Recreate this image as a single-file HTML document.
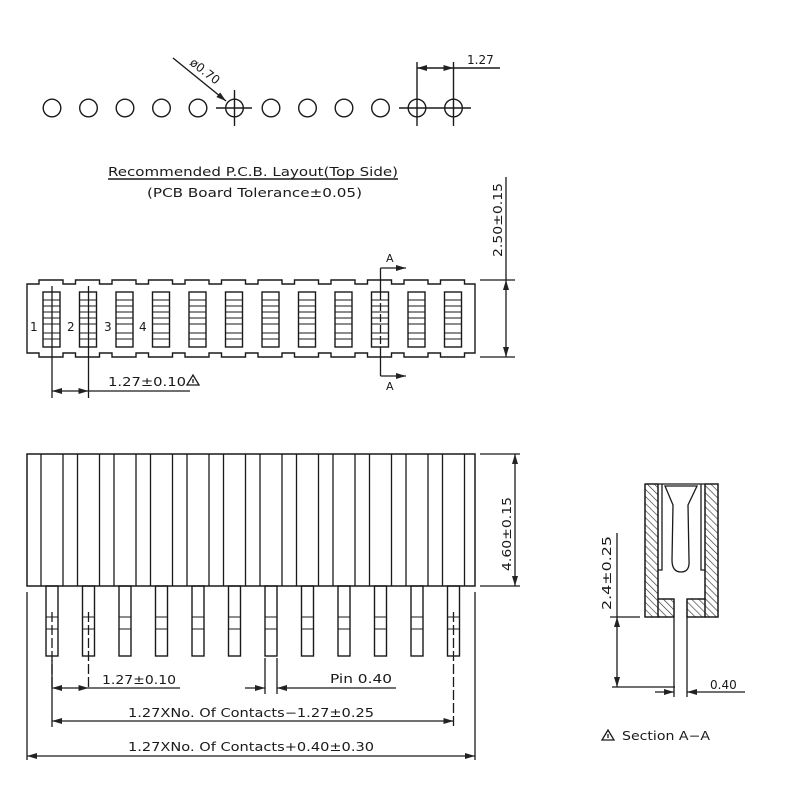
<!DOCTYPE html>
<html><head><meta charset="utf-8"><style>
html,body{margin:0;padding:0;background:#fff;}
svg{display:block;}
text{font-family:"DejaVu Sans","Liberation Sans",sans-serif;fill:#1a1a1a;}
</style></head><body>
<svg width="800" height="800" viewBox="0 0 800 800" xmlns="http://www.w3.org/2000/svg">
<defs>
<marker id="ar" viewBox="0 0 10 6" refX="10" refY="3" markerWidth="10" markerHeight="6" orient="auto-start-reverse" markerUnits="userSpaceOnUse"><path d="M0,0 L10,3 L0,6 z" fill="#222"/></marker>
<pattern id="hatch" width="5" height="5" patternUnits="userSpaceOnUse" patternTransform="rotate(-45)"><line x1="0" y1="0" x2="0" y2="5" stroke="#333" stroke-width="1.3"/></pattern>
<g id="slot"><rect x="-9" y="292" width="17" height="55" fill="none" stroke="#1a1a1a" stroke-width="1.4"/>
<path d="M-9,300H8M-9,306H8M-9,312H8M-9,318H8M-9,324H8M-9,333H8M-9,339H8" stroke="#1a1a1a" stroke-width="1.1"/></g>
<g id="pin"><rect x="-6" y="586" width="12" height="70" fill="none" stroke="#1a1a1a" stroke-width="1.4"/>
<path d="M-6,617H6M-6,629H6" stroke="#1a1a1a" stroke-width="1.1"/></g>
<g id="hole"><circle cx="0" cy="108" r="8.8" fill="none" stroke="#1a1a1a" stroke-width="1.4"/></g>
</defs>
<g stroke="#1a1a1a" fill="none" stroke-width="1.4">
<use href="#hole" x="52"/><use href="#hole" x="88.5"/><use href="#hole" x="125"/><use href="#hole" x="161.5"/><use href="#hole" x="198"/><use href="#hole" x="234.5"/><use href="#hole" x="271"/><use href="#hole" x="307.5"/><use href="#hole" x="344"/><use href="#hole" x="380.5"/><use href="#hole" x="417"/><use href="#hole" x="453.5"/>
<path d="M216,108H252M234.5,90V126M399,108H471M417,90V126M453.5,90V126"/>
<path d="M417,62V90M453.5,62V90"/>
<line x1="417" y1="68" x2="453.5" y2="68" marker-start="url(#ar)" marker-end="url(#ar)"/>
<path d="M453.5,68H500"/>
<line x1="173" y1="58" x2="226" y2="101" marker-end="url(#ar)"/>
<path d="M108,179H398"/>
<path d="M27,284 L39,284 L39,280 L63,280 L63,284 L75.5,284 L75.5,280 L99.5,280 L99.5,284 L112,284 L112,280 L136,280 L136,284 L148.5,284 L148.5,280 L172.5,280 L172.5,284 L185,284 L185,280 L209,280 L209,284 L221.5,284 L221.5,280 L245.5,280 L245.5,284 L258,284 L258,280 L282,280 L282,284 L294.5,284 L294.5,280 L318.5,280 L318.5,284 L331,284 L331,280 L355,280 L355,284 L367.5,284 L367.5,280 L391.5,280 L391.5,284 L404,284 L404,280 L428,280 L428,284 L440.5,284 L440.5,280 L464.5,280 L464.5,284 L475,284 L475,353 L464.5,353 L464.5,357 L440.5,357 L440.5,353 L428,353 L428,357 L404,357 L404,353 L391.5,353 L391.5,357 L367.5,357 L367.5,353 L355,353 L355,357 L331,357 L331,353 L318.5,353 L318.5,357 L294.5,357 L294.5,353 L282,353 L282,357 L258,357 L258,353 L245.5,353 L245.5,357 L221.5,357 L221.5,353 L209,353 L209,357 L185,357 L185,353 L172.5,353 L172.5,357 L148.5,357 L148.5,353 L136,353 L136,357 L112,357 L112,353 L99.5,353 L99.5,357 L75.5,357 L75.5,353 L63,353 L63,357 L39,357 L39,353 L27,353 Z"/>
</g>
<use href="#slot" x="52"/><use href="#slot" x="88.5"/><use href="#slot" x="125"/><use href="#slot" x="161.5"/><use href="#slot" x="198"/><use href="#slot" x="234.5"/><use href="#slot" x="271"/><use href="#slot" x="307.5"/><use href="#slot" x="344"/><use href="#slot" x="380.5"/><use href="#slot" x="417"/><use href="#slot" x="453.5"/>
<g stroke="#1a1a1a" fill="none" stroke-width="1.3">
<path d="M52,286V398M88.5,286V398"/>
<line x1="52" y1="391" x2="88.5" y2="391" marker-start="url(#ar)" marker-end="url(#ar)"/>
<path d="M88.5,391H190"/>
<path d="M380.5,292V347" stroke-dasharray="8,3"/>
<path d="M380.5,292V268"/><line x1="380.5" y1="268" x2="406" y2="268" marker-end="url(#ar)"/>
<path d="M380.5,347V376"/><line x1="380.5" y1="376" x2="406" y2="376" marker-end="url(#ar)"/>
<path d="M480,280H515M480,357H515M506,177V280"/>
<line x1="506" y1="280" x2="506" y2="357" marker-start="url(#ar)" marker-end="url(#ar)"/>
<rect x="27" y="454" width="448" height="132" stroke-width="1.5"/>
<path d="M41,454V586M77.5,454V586M114,454V586M150.5,454V586M187,454V586M223.5,454V586M260,454V586M296.5,454V586M333,454V586M369.5,454V586M406,454V586M442.5,454V586M63,454V586M99.5,454V586M136,454V586M172.5,454V586M209,454V586M245.5,454V586M282,454V586M318.5,454V586M355,454V586M391.5,454V586M428,454V586M464.5,454V586"/>
<path d="M480,454H520M480,586H520"/>
<line x1="515" y1="454" x2="515" y2="586" marker-start="url(#ar)" marker-end="url(#ar)"/>
</g>
<use href="#pin" x="52"/><use href="#pin" x="88.5"/><use href="#pin" x="125"/><use href="#pin" x="161.5"/><use href="#pin" x="198"/><use href="#pin" x="234.5"/><use href="#pin" x="271"/><use href="#pin" x="307.5"/><use href="#pin" x="344"/><use href="#pin" x="380.5"/><use href="#pin" x="417"/><use href="#pin" x="453.5"/>
<g stroke="#1a1a1a" fill="none" stroke-width="1.3">
<path d="M52,612V690M88.5,612V690M453.5,612V727" stroke-dasharray="10,3"/>
<path d="M52,660V727M27,592V760M475,592V760M265,658V694M277,658V694"/>
<line x1="52" y1="688" x2="88.5" y2="688" marker-start="url(#ar)" marker-end="url(#ar)"/>
<path d="M88.5,688H180"/>
<line x1="245" y1="688" x2="265" y2="688" marker-end="url(#ar)"/>
<line x1="396" y1="688" x2="277" y2="688" marker-end="url(#ar)"/>
<line x1="52" y1="721" x2="453.5" y2="721" marker-start="url(#ar)" marker-end="url(#ar)"/>
<line x1="27" y1="756" x2="475" y2="756" marker-start="url(#ar)" marker-end="url(#ar)"/>
<rect x="645" y="484" width="13" height="133" fill="url(#hatch)"/>
<rect x="705" y="484" width="13" height="133" fill="url(#hatch)"/>
<rect x="658" y="599" width="16" height="18" fill="url(#hatch)"/>
<rect x="687" y="599" width="18" height="18" fill="url(#hatch)"/>
<path d="M645,484H718V617H705M645,484V617H674M687,617H705M658,484V599M705,484V599M662,484V570H658M701,484V570H705M658,599H674M687,599H705"/>
<path d="M665,486 L673,505 L672,560 Q672,572 681,572 Q690,572 689,560 L688,505 L697,486 Z"/>
<path d="M674,599V697M687,599V697"/>
<path d="M640,617H610M675,687H612M617,533V617"/>
<line x1="617" y1="617" x2="617" y2="687" marker-start="url(#ar)" marker-end="url(#ar)"/>
<line x1="655" y1="692" x2="674" y2="692" marker-end="url(#ar)"/>
<line x1="745" y1="692" x2="687" y2="692" marker-end="url(#ar)"/>
<path d="M187,385L193,375L199,385Z M193,379V383"/>
<path d="M602,740L608,730L614,740Z M608,734V738"/>
</g>
<text x="189" y="64" font-size="12" transform="rotate(38 189 64)">ø0.70</text>
<text x="467" y="64" font-size="12">1.27</text>
<text x="108" y="176" font-size="12" textLength="290" lengthAdjust="spacingAndGlyphs">Recommended  P.C.B.  Layout(Top  Side)</text>
<text x="147" y="197" font-size="12" textLength="215" lengthAdjust="spacingAndGlyphs">(PCB  Board  Tolerance±0.05)</text>
<text x="30" y="331" font-size="12">1</text>
<text x="67" y="331" font-size="12">2</text>
<text x="104" y="331" font-size="12">3</text>
<text x="139" y="331" font-size="12">4</text>
<text x="386" y="262" font-size="11">A</text>
<text x="386" y="390" font-size="11">A</text>
<text x="108" y="386" font-size="12" textLength="78" lengthAdjust="spacingAndGlyphs">1.27±0.10</text>
<text font-size="12" transform="translate(502 257) rotate(-90)" textLength="74" lengthAdjust="spacingAndGlyphs">2.50±0.15</text>
<text font-size="12" transform="translate(511 571) rotate(-90)" textLength="74" lengthAdjust="spacingAndGlyphs">4.60±0.15</text>
<text x="102" y="684" font-size="12" textLength="74" lengthAdjust="spacingAndGlyphs">1.27±0.10</text>
<text x="330" y="683" font-size="12" textLength="62" lengthAdjust="spacingAndGlyphs">Pin  0.40</text>
<text x="128" y="717" font-size="12" textLength="246" lengthAdjust="spacingAndGlyphs">1.27XNo.  Of  Contacts−1.27±0.25</text>
<text x="128" y="751" font-size="12" textLength="246" lengthAdjust="spacingAndGlyphs">1.27XNo.  Of  Contacts+0.40±0.30</text>
<text font-size="12" transform="translate(611 610) rotate(-90)" textLength="74" lengthAdjust="spacingAndGlyphs">2.4±0.25</text>
<text x="710" y="689" font-size="12">0.40</text>
<text x="622" y="740" font-size="12" textLength="88" lengthAdjust="spacingAndGlyphs">Section  A−A</text>
</svg>
</body></html>
